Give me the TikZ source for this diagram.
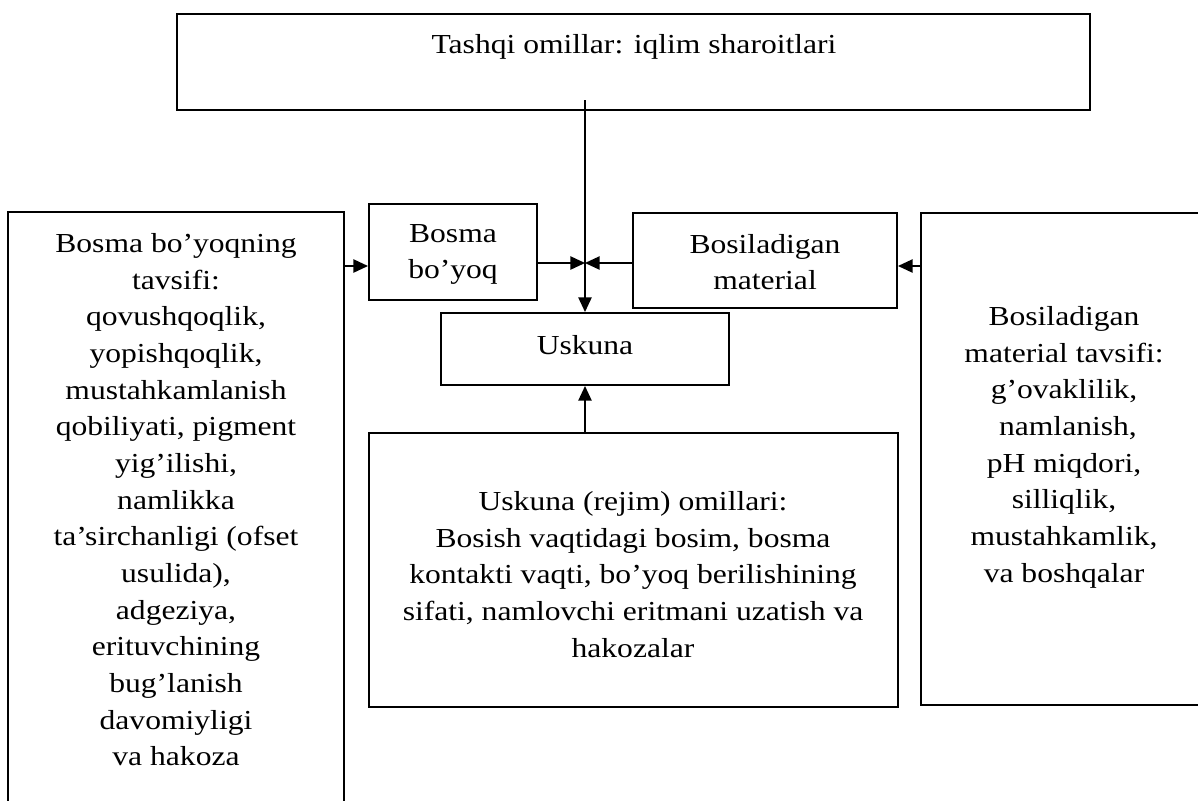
\documentclass[tikz,border=0pt]{standalone}
\usepackage{fontspec}
\setmainfont{Liberation Serif}[FakeStretch=1.15]
\usetikzlibrary{arrows.meta}
\begin{document}
\begin{tikzpicture}[x=0.75pt,y=-0.75pt,
  box/.style={draw, line width=1.5pt, inner sep=0pt},
  txt/.style={inner sep=0pt, align=center, font=\fontsize{20.6pt}{27.5pt}\selectfont},
  conn/.style={line width=1.1pt},
  arr/.style={conn, -{Triangle[length=11pt,width=10pt]}},
]
\useasboundingbox (0,0) rectangle (1198,800);
% boxes
\node[box, minimum width=684.75pt, minimum height=72pt] (top) at (633.5,62) {};
\node[box, minimum width=126pt, minimum height=72pt] (bosma) at (453,252) {};
\node[box, minimum width=198pt, minimum height=71.25pt] (bosmat) at (765,260.5) {};
\node[box, minimum width=216pt, minimum height=54pt] (usk) at (585,349) {};
\node[box, minimum width=396.75pt, minimum height=205.5pt] (bottom) at (633.5,570) {};
\node[box, minimum width=252pt, minimum height=471pt] (left) at (176,526) {};
\node[box, minimum width=214.5pt, minimum height=369pt] (right) at (1064,459) {};
% texts
\node[txt, anchor=base] (toptext) at (634,53) {Tashqi omillar: iqlim sharoitlari};
\node[txt, anchor=north] (bosmatext) at (453,224) {Bosma\\bo’yoq};
\node[txt, anchor=north] (bosmattext) at (765,234) {Bosiladigan\\material};
\node[txt, anchor=base] (usktext) at (585,354) {Uskuna};
\node[txt, anchor=north] (bottomtext) at (633,491) {Uskuna (rejim) omillari:\\Bosish vaqtidagi bosim, bosma\\kontakti vaqti, bo’yoq berilishining\\sifati, namlovchi eritmani uzatish va\\hakozalar};
\node[txt, anchor=north] (lefttext) at (176,233) {Bosma bo’yoqning\\tavsifi:\\qovushqoqlik,\\yopishqoqlik,\\mustahkamlanish\\qobiliyati, pigment\\yig’ilishi,\\namlikka\\ta’sirchanligi (ofset\\usulida),\\adgeziya,\\erituvchining\\bug’lanish\\davomiyligi\\va hakoza};
\node[txt, anchor=north] (righttext) at (1064,306) {Bosiladigan\\material tavsifi:\\g’ovaklilik,\\\ namlanish,\\pH miqdori,\\silliqlik,\\mustahkamlik,\\va boshqalar};
% connectors
\coordinate (tstart) at (585,100);
\coordinate (j) at (585,263);
\coordinate (ly) at (0,266);
\draw[arr] (tstart) -- (usk.north);
\draw[arr] (bosma.east |- j) -- (j);
\draw[arr] (bosmat.west |- j) -- (j);
\draw[arr] (left.east |- ly) -- (bosma.west |- ly);
\draw[arr] (right.west |- ly) -- (bosmat.east |- ly);
\draw[arr] (usk.south |- bottom.north) -- (usk.south);
\end{tikzpicture}
\end{document}
